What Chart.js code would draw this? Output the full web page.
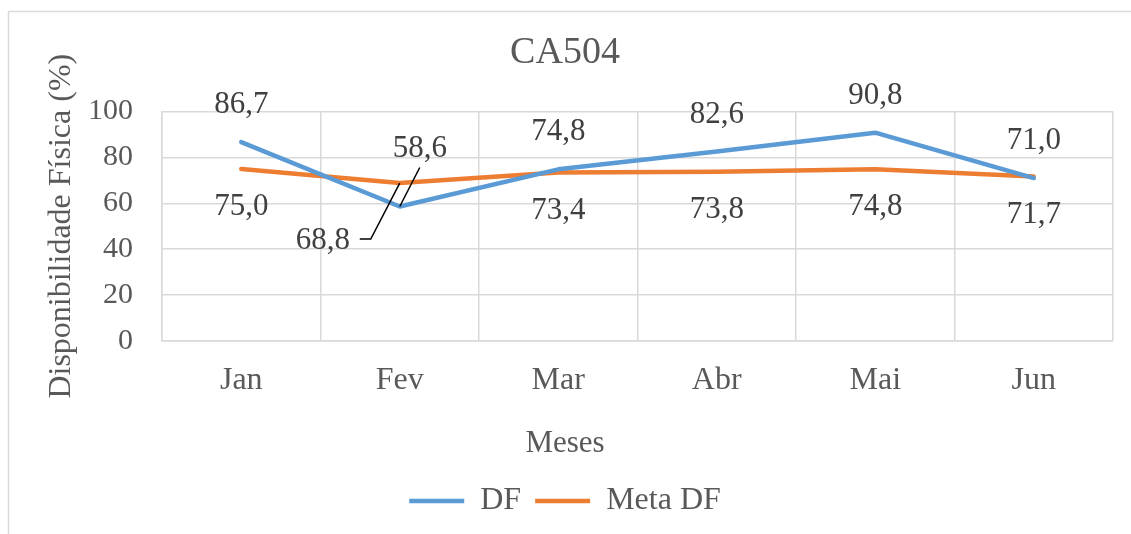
<!DOCTYPE html>
<html>
<head>
<meta charset="utf-8">
<script src="https://cdn.jsdelivr.net/npm/chart.js@4.4.1/dist/chart.umd.min.js"></script>
<style>
	body { margin:0; background:#fff; overflow:hidden; }
	#wrap { position:relative; width:1131px; height:534px; }
</style>
</head>
<body>
<div id="wrap"><canvas id="myChart"></canvas></div>
<script>
let meses = ['Jan','Fev','Mar','Abr','Mai','Jun']
let df = [86.7, 58.6, 74.8, 82.6, 90.8, 71.0]
let metaDf = [75.0, 68.8, 73.4, 73.8, 74.8, 71.7]
let yTicks = [0, 20, 40, 60, 80, 100]

const serif = '"Liberation Serif", "Times New Roman", serif'
const grey = '#595959'

// labels moved by hand in the original (Fev), drawn with a leader line
const callouts = {
	'0-1': {dx: 20, dy: -58},
	'1-1': {dx: -77, dy: 58, elbow: true}
}

const frame = {
	id: 'frame',
	beforeDraw(chart) {
		let ctx = chart.ctx
		ctx.save()
		ctx.strokeStyle = '#d9d9d9'
		ctx.lineWidth = 1.5
		ctx.beginPath()
		ctx.moveTo(8.5, chart.height)
		ctx.lineTo(8.5, 11.5)
		ctx.lineTo(chart.width, 11.5)
		ctx.stroke()
		ctx.restore()
	}
}

const valueLabels = {
	id: 'valueLabels',
	afterDatasetsDraw(chart) {
		let ctx = chart.ctx
		ctx.save()
		ctx.font = '31px ' + serif
		ctx.fillStyle = '#404040'
		ctx.textAlign = 'center'
		ctx.textBaseline = 'middle'
		chart.data.datasets.forEach((ds, d) => {
			let meta = chart.getDatasetMeta(d)
			meta.data.forEach((pt, i) => {
				let txt = ds.data[i].toFixed(1).replace('.', ',')
				let c = callouts[d + '-' + i]
				if (c) {
					let lx = pt.x + c.dx
					let ly = pt.y + c.dy
					ctx.fillText(txt, lx, ly)
					ctx.strokeStyle = '#000'
					ctx.lineWidth = 1.5
					ctx.beginPath()
					if (c.elbow) {
						ctx.moveTo(lx + 37, ly - 2)
						ctx.lineTo(lx + 48, ly - 2)
					} else {
						ctx.moveTo(lx, ly + 19)
					}
					ctx.lineTo(pt.x, pt.y)
					ctx.stroke()
				} else if (d == 0) {
					ctx.fillText(txt, pt.x, pt.y - 37)
				} else {
					ctx.fillText(txt, pt.x, pt.y + 38)
				}
			})
		})
		ctx.restore()
	}
}

new Chart('myChart', {
	type: 'line',
	data: {
		labels: meses,
		datasets: [
			{
				label: 'DF',
				data: df,
				borderColor: '#5b9bd5',
				backgroundColor: '#5b9bd5',
				borderWidth: 4.5,
				borderCapStyle: 'round',
				borderJoinStyle: 'round',
				pointRadius: 0,
				pointStyle: 'line',
				tension: 0
			},
			{
				label: 'Meta DF',
				data: metaDf,
				borderColor: '#ed7d31',
				backgroundColor: '#ed7d31',
				borderWidth: 4.5,
				borderCapStyle: 'round',
				borderJoinStyle: 'round',
				pointRadius: 0,
				pointStyle: 'line',
				tension: 0
			}
		]
	},
	options: {
		responsive: true,
		maintainAspectRatio: false,
		animation: false,
		events: [],
		layout: { padding: { left: 17, right: 18, top: 0, bottom: 7 } },
		scales: {
			x: {
				offset: true,
				grid: { offset: true, color: '#d9d9d9', lineWidth: 1.5, drawTicks: false },
				border: { color: '#d9d9d9', width: 1.5 },
				ticks: { color: grey, font: { family: serif, size: 32 }, padding: 21 },
				afterFit(scale) { scale.height = 80 }
			},
			y: {
				min: 0,
				max: 100,
				afterBuildTicks(scale) { scale.ticks = yTicks.map(v => ({value: v})) },
				grid: { color: '#d9d9d9', lineWidth: 1.5, drawTicks: false },
				border: { color: '#d9d9d9', width: 1.5 },
				ticks: { color: grey, font: { family: serif, size: 30 }, padding: 29 },
				title: {
					display: true,
					text: 'Disponibilidade Física (%)',
					color: grey,
					font: { family: serif, size: 32 },
					padding: { top: 25, bottom: 0 }
				},
				afterFit(scale) { scale.width = 145 }
			}
		},
		plugins: {
			title: {
				display: true,
				text: 'CA504',
				color: grey,
				font: { family: serif, size: 38, weight: 'normal' },
				padding: { top: 30, bottom: 36 }
			},
			subtitle: {
				display: true,
				position: 'bottom',
				weight: 500,
				text: 'Meses',
				color: grey,
				font: { family: serif, size: 31, weight: 'normal' },
				padding: { top: 4, bottom: 9 }
			},
			legend: {
				position: 'bottom',
				labels: {
					color: grey,
					font: { family: serif, size: 32 },
					usePointStyle: true,
					pointStyleWidth: 55,
					padding: 14
				}
			},
			tooltip: { enabled: false }
		}
	},
	plugins: [frame, valueLabels]
})
</script>
</body>
</html>
